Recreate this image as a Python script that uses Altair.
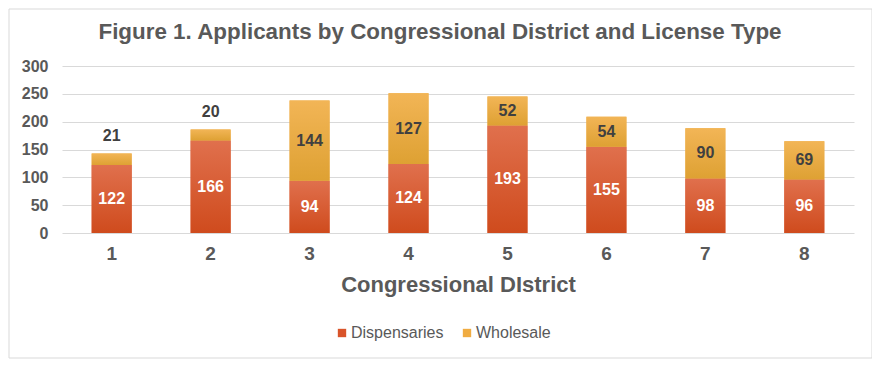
import altair as alt
import pandas as pd

districts = ["1", "2", "3", "4", "5", "6", "7", "8"]
dispensaries = [122, 166, 94, 124, 193, 155, 98, 96]
wholesale = [21, 20, 144, 127, 52, 54, 90, 69]
types = ["Dispensaries", "Wholesale"]
legend_colors = ["#d9542a", "#f0ac42"]

rows = []
for d, a, b in zip(districts, dispensaries, wholesale):
    rows.append({"district": d, "type": "Dispensaries", "start": 0, "end": a, "value": a, "mid": a / 2})
    rows.append({"district": d, "type": "Wholesale", "start": a, "end": a + b, "value": b, "mid": a + b / 2})
df = pd.DataFrame(rows)

FONT = "Liberation Sans"
GRAY = "#595959"

x_enc = alt.X("district:N", sort=districts,
              scale=alt.Scale(paddingInner=0.596, paddingOuter=0.3),
              axis=alt.Axis(labelAngle=0, domain=False, ticks=False, labelPadding=11,
                            labelFontSize=19, labelFontWeight="bold", labelColor=GRAY, labelFont=FONT,
                            title="Congressional DIstrict", titleFontSize=22, titleFontWeight="bold",
                            titleColor=GRAY, titleFont=FONT, titlePadding=11, grid=False))
y_scale = alt.Scale(domain=[0, 300])
y_axis = alt.Axis(values=[0, 50, 100, 150, 200, 250, 300], domain=False, ticks=False,
                  labelOverlap=False, labelPadding=14, labelFontSize=16, labelFontWeight="bold",
                  labelColor=GRAY, labelFont=FONT, gridColor="#d9d9d9", title=None)
y_enc = alt.Y("start:Q", scale=y_scale, axis=y_axis)
y_text = lambda f: alt.Y(f, scale=y_scale, axis=y_axis)

base = alt.Chart(df)

legend_layer = base.mark_bar().encode(
    x=x_enc, y=y_enc, y2="end:Q",
    color=alt.Color("type:N", scale=alt.Scale(domain=types, range=legend_colors),
                    legend=alt.Legend(orient="none", legendX=272, legendY=259, direction="horizontal",
                                      title=None, symbolType="square", symbolSize=70,
                                      labelFontSize=16, labelColor=GRAY, labelFont=FONT,
                                      labelOffset=1, columnPadding=15))
)

def grad(top, bottom):
    return alt.Gradient(gradient="linear", x1=0, x2=0, y1=0, y2=1,
                        stops=[alt.GradientStop(color=top, offset=0),
                               alt.GradientStop(color=bottom, offset=1)])

disp_bar = base.transform_filter(alt.datum.type == "Dispensaries").mark_bar(
    color=grad("#e0704d", "#cf4b1d")).encode(x=x_enc, y=y_enc, y2="end:Q")
whole_bar = base.transform_filter(alt.datum.type == "Wholesale").mark_bar(
    color=grad("#f2b556", "#dea133")).encode(x=x_enc, y=y_enc, y2="end:Q")

disp_text = base.transform_filter(alt.datum.type == "Dispensaries").mark_text(
    font=FONT, fontSize=16, fontWeight="bold", color="white", baseline="middle").encode(
    x=x_enc, y=y_text("mid:Q"), text="value:Q")
whole_text_in = base.transform_filter((alt.datum.type == "Wholesale") & (alt.datum.value >= 30)).mark_text(
    font=FONT, fontSize=16, fontWeight="bold", color="#404040", baseline="middle").encode(
    x=x_enc, y=y_text("mid:Q"), text="value:Q")
whole_text_out = base.transform_filter((alt.datum.type == "Wholesale") & (alt.datum.value < 30)).mark_text(
    font=FONT, fontSize=16, fontWeight="bold", color="#404040", baseline="middle", dy=-17).encode(
    x=x_enc, y=y_text("end:Q"), text="value:Q")

border = alt.Chart(alt.Data(values=[{"a": 1}])).mark_rect(
    fillOpacity=0, stroke="#d9d9d9", strokeWidth=1).encode(
    x=alt.value(-53), x2=alt.value(810), y=alt.value(-57), y2=alt.value(292))

chart = alt.layer(border, legend_layer, disp_bar, whole_bar, disp_text, whole_text_in, whole_text_out).properties(
    width=792, height=167,
    title=alt.TitleParams("Figure 1. Applicants by Congressional District and License Type",
                          font=FONT, fontSize=22.4, fontWeight="bold", color=GRAY,
                          anchor="middle", dx=-18, offset=-35, frame="group"),
    autosize=alt.AutoSizeParams(type="none"),
    padding={"left": 54, "top": 58, "right": 18, "bottom": 126},
).configure_view(stroke=None)

chart.save("out.html", embed_options={"renderer": "svg", "actions": False})
